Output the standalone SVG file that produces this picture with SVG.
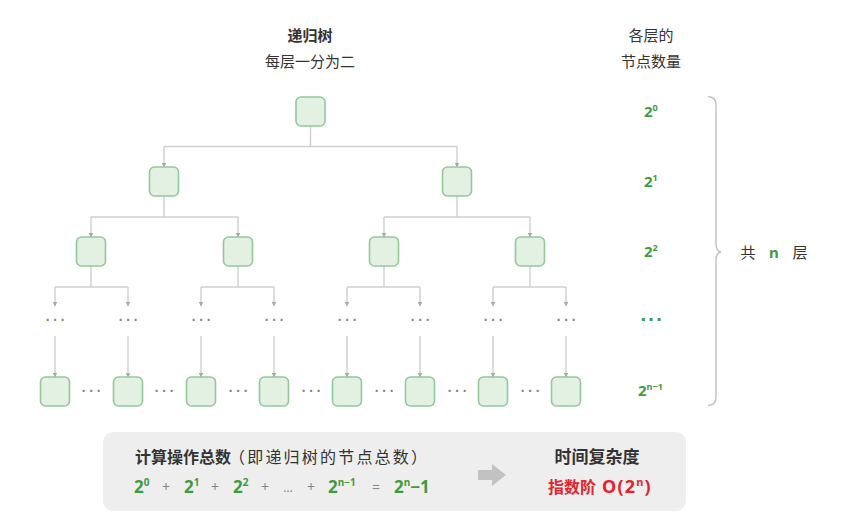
<svg xmlns="http://www.w3.org/2000/svg" width="842" height="516" viewBox="0 0 842 516">
<style>
.t{font-family:"Noto Sans","Noto Sans CJK SC",sans-serif;fill:#333;}
.cjk{font-family:"Noto Sans CJK SC","Noto Sans",sans-serif;}
.g{fill:#3f9b3f;font-weight:bold;}
.r{fill:#e5232d;font-weight:bold;}
.op{fill:#888;}
.node rect{fill:#e3f1e3;stroke:#93c89a;stroke-width:1.6;}
.ln{fill:none;stroke:#cfcfcf;stroke-width:1.4;}
.dots{font-family:"DejaVu Sans",sans-serif;fill:#808080;font-size:18px;letter-spacing:1.8px;}
</style>
<defs>
<marker id="ah" viewBox="0 0 10 10" refX="9" refY="5" markerWidth="5" markerHeight="5" orient="auto" markerUnits="userSpaceOnUse">
<path d="M0,0 L10,5 L0,10 z" fill="#a8a8a8"/>
</marker>
</defs>

<!-- headers -->
<g id="title">
<text class="t cjk" x="310" y="41" font-size="15" font-weight="bold" text-anchor="middle">递归树</text>
<text class="t cjk" x="310" y="67" font-size="15" text-anchor="middle">每层一分为二</text>
</g>
<g id="header-right">
<text class="t cjk" x="651" y="41" font-size="15" text-anchor="middle">各层的</text>
<text class="t cjk" x="651" y="67" font-size="15" text-anchor="middle">节点数量</text>
</g>

<!-- connectors -->
<g id="connectors">
<path class="ln" d="M310.5,126 V146.5 M164,146.5 H457"/>
<path class="ln" d="M164,146.5 V167" marker-end="url(#ah)"/>
<path class="ln" d="M457,146.5 V167" marker-end="url(#ah)"/>
<path class="ln" d="M164,196 V217 M91,217 H238 M457,196 V217 M384,217 H530"/>
<path class="ln" d="M91,217 V237" marker-end="url(#ah)"/>
<path class="ln" d="M238,217 V237" marker-end="url(#ah)"/>
<path class="ln" d="M384,217 V237" marker-end="url(#ah)"/>
<path class="ln" d="M530,217 V237" marker-end="url(#ah)"/>
<path class="ln" d="M91,266 V287 M55,287 H128 M238,266 V287 M201,287 H274 M384,266 V287 M347,287 H420 M530,266 V287 M493,287 H566"/>
<path class="ln" d="M55,287 V306" marker-end="url(#ah)"/>
<path class="ln" d="M128,287 V306" marker-end="url(#ah)"/>
<path class="ln" d="M201,287 V306" marker-end="url(#ah)"/>
<path class="ln" d="M274,287 V306" marker-end="url(#ah)"/>
<path class="ln" d="M347,287 V306" marker-end="url(#ah)"/>
<path class="ln" d="M420,287 V306" marker-end="url(#ah)"/>
<path class="ln" d="M493,287 V306" marker-end="url(#ah)"/>
<path class="ln" d="M566,287 V306" marker-end="url(#ah)"/>
<path class="ln" d="M55,336 V377" marker-end="url(#ah)"/>
<path class="ln" d="M128,336 V377" marker-end="url(#ah)"/>
<path class="ln" d="M201,336 V377" marker-end="url(#ah)"/>
<path class="ln" d="M274,336 V377" marker-end="url(#ah)"/>
<path class="ln" d="M347,336 V377" marker-end="url(#ah)"/>
<path class="ln" d="M420,336 V377" marker-end="url(#ah)"/>
<path class="ln" d="M493,336 V377" marker-end="url(#ah)"/>
<path class="ln" d="M566,336 V377" marker-end="url(#ah)"/>
</g>

<!-- nodes -->
<g id="n0" class="node"><rect x="296" y="97" width="29" height="29" rx="5"/></g>
<g id="n1a" class="node"><rect x="149.5" y="167" width="29" height="29" rx="5"/></g>
<g id="n1b" class="node"><rect x="442.5" y="167" width="29" height="29" rx="5"/></g>
<g id="n2a" class="node"><rect x="76.5" y="237" width="29" height="29" rx="5"/></g>
<g id="n2b" class="node"><rect x="223.5" y="237" width="29" height="29" rx="5"/></g>
<g id="n2c" class="node"><rect x="369.5" y="237" width="29" height="29" rx="5"/></g>
<g id="n2d" class="node"><rect x="515.5" y="237" width="29" height="29" rx="5"/></g>

<g id="level3-dots" class="dots" text-anchor="middle">
<text x="56" y="326">···</text>
<text x="129" y="326">···</text>
<text x="202" y="326">···</text>
<text x="275" y="326">···</text>
<text x="348" y="326">···</text>
<text x="421" y="326">···</text>
<text x="494" y="326">···</text>
<text x="567" y="326">···</text>
</g>

<g id="n4a" class="node"><rect x="40.5" y="377" width="29" height="29" rx="5"/></g>
<g id="n4b" class="node"><rect x="113.5" y="377" width="29" height="29" rx="5"/></g>
<g id="n4c" class="node"><rect x="186.5" y="377" width="29" height="29" rx="5"/></g>
<g id="n4d" class="node"><rect x="259.5" y="377" width="29" height="29" rx="5"/></g>
<g id="n4e" class="node"><rect x="332.5" y="377" width="29" height="29" rx="5"/></g>
<g id="n4f" class="node"><rect x="405.5" y="377" width="29" height="29" rx="5"/></g>
<g id="n4g" class="node"><rect x="478.5" y="377" width="29" height="29" rx="5"/></g>
<g id="n4h" class="node"><rect x="551.5" y="377" width="29" height="29" rx="5"/></g>

<g id="level4-dots" class="dots" text-anchor="middle">
<text x="92" y="397">···</text>
<text x="165" y="397">···</text>
<text x="239" y="397">···</text>
<text x="312" y="397">···</text>
<text x="385" y="397">···</text>
<text x="458" y="397">···</text>
<text x="531" y="397">···</text>
</g>

<!-- per-level counts -->
<g id="counts" class="t g" font-size="15">
<text x="644" y="117">2<tspan font-size="9" dy="-6">0</tspan></text>
<text x="644" y="187">2<tspan font-size="9" dy="-6">1</tspan></text>
<text x="644" y="257">2<tspan font-size="9" dy="-6">2</tspan></text>
<text x="652" y="325" class="dots" text-anchor="middle" style="fill:#3f9b3f;font-size:16px">···</text>
<text x="638" y="396">2<tspan font-size="9" dy="-6">n−1</tspan></text>
</g>

<!-- brace -->
<g id="brace">
<path d="M708,96.5 Q716,97 716,105 V244 Q716,251 721,252 Q716,253 716,260 V397 Q716,405 708,405.5" fill="none" stroke="#c4c4c4" stroke-width="1.5"/>
</g>
<g id="layers-label" class="t cjk" font-size="15">
<text x="748" y="258" text-anchor="middle">共</text>
<text x="774" y="258" text-anchor="middle" class="g" style="font-family:'Noto Sans',sans-serif">n</text>
<text x="800" y="258" text-anchor="middle">层</text>
</g>

<!-- bottom summary -->
<g id="summary">
<rect x="103" y="432" width="583" height="79" rx="10" fill="#eeeeee"/>
<text class="t cjk" x="135" y="463" font-size="16" font-weight="bold">计算操作总数</text>
<text class="t cjk" x="229" y="463" font-size="16" letter-spacing="2.2">（即递归树的节点总数）</text>
<g class="t" font-size="17">
<text class="g" x="134" y="493">2<tspan font-size="10" dy="-7">0</tspan></text>
<text class="op" x="166" y="492" text-anchor="middle" font-size="14">+</text>
<text class="g" x="184" y="493">2<tspan font-size="10" dy="-7">1</tspan></text>
<text class="op" x="215" y="492" text-anchor="middle" font-size="14">+</text>
<text class="g" x="233" y="493">2<tspan font-size="10" dy="-7">2</tspan></text>
<text class="op" x="265" y="492" text-anchor="middle" font-size="14">+</text>
<text class="op" x="288" y="492" text-anchor="middle" font-size="12">…</text>
<text class="op" x="311" y="492" text-anchor="middle" font-size="14">+</text>
<text class="g" x="328" y="493">2<tspan font-size="10" dy="-7">n−1</tspan></text>
<text class="op" x="376" y="492" text-anchor="middle" font-size="14">=</text>
<text class="g" x="394" y="493">2<tspan font-size="10" dy="-7">n</tspan><tspan dy="7">−1</tspan></text>
</g>
<path d="M478,470 H492 V464 L506,475 L492,486 V480 H478 Z" fill="#c2c2c2"/>
<text class="t cjk" x="597" y="463" font-size="17" font-weight="bold" text-anchor="middle">时间复杂度</text>
<text class="t r cjk" x="548" y="493" font-size="16">指数阶</text>
<text class="t r" x="602" y="493" font-size="18" letter-spacing="1.2">O(2<tspan font-size="11" dy="-7">n</tspan><tspan dy="7">)</tspan></text>
</g>
</svg>
